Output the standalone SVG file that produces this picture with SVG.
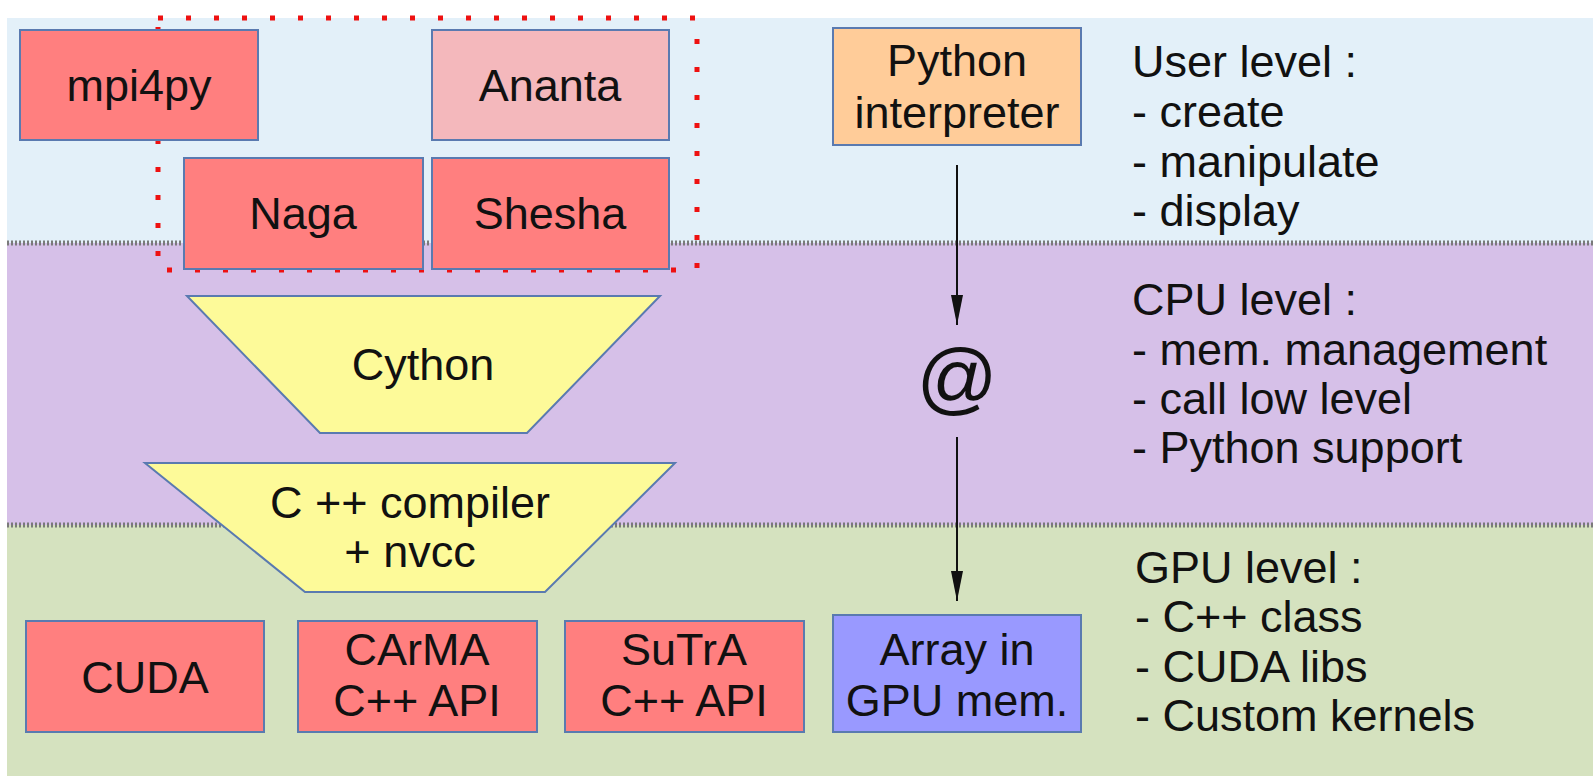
<svg xmlns="http://www.w3.org/2000/svg" width="1593" height="776" viewBox="0 0 1593 776">
<defs>
<style>
text{font-family:"Liberation Sans",Arial,sans-serif;font-size:45px;fill:#111;}
.c{text-anchor:middle;}
.box{stroke:#5a7ab0;stroke-width:2;}
.red{fill:#ff7f7f;}
.pink{fill:#f4b8bc;}
.trap{fill:#fdfa99;stroke:#5a7ab0;stroke-width:2;}
.sep{stroke:#7a7a7a;stroke-width:5;stroke-dasharray:2 2;fill:none;}
.conn{stroke:#111;stroke-width:2;fill:none;}
</style>
<marker id="ah" viewBox="0 0 30 12" refX="30" refY="6" markerWidth="30" markerHeight="12" markerUnits="userSpaceOnUse" orient="auto">
<path d="M0,0 L30,6 L0,12 Z" fill="#111"/>
</marker>
</defs>
<rect x="0" y="0" width="1593" height="776" fill="#ffffff"/>
<g id="bands">
<rect x="7" y="18" width="1586" height="225" fill="#e3f0f9"/>
<rect x="7" y="243" width="1586" height="282" fill="#d6c0e8"/>
<rect x="7" y="525" width="1586" height="251" fill="#d5e2bf"/>
<line class="sep" x1="7" y1="243" x2="1593" y2="243"/>
<line class="sep" x1="7" y1="525" x2="1593" y2="525"/>
</g>
<g id="group-outline">
<rect x="158" y="18" width="539" height="252" fill="none" stroke="#ee1111" stroke-width="5" stroke-dasharray="5 23"/>
</g>
<g id="mpi4py"><rect class="box red" x="20" y="30" width="238" height="110"/><text class="c" x="139" y="101">mpi4py</text></g>
<g id="ananta"><rect class="box pink" x="432" y="30" width="237" height="110"/><text class="c" x="550" y="101">Ananta</text></g>
<g id="naga"><rect class="box red" x="184" y="158" width="239" height="111"/><text class="c" x="303" y="229">Naga</text></g>
<g id="shesha"><rect class="box red" x="432" y="158" width="237" height="111"/><text class="c" x="550" y="229">Shesha</text></g>
<g id="python"><rect class="box" fill="#ffcc99" x="833" y="28" width="248" height="117"/><text class="c" x="957" y="76">Python</text><text class="c" x="957" y="128">interpreter</text></g>
<g id="cython"><polygon class="trap" points="187,296 660,296 527,433 320,433"/><text class="c" x="423" y="380">Cython</text></g>
<g id="compiler"><polygon class="trap" points="145,463 675,463 545,592 305,592"/><text class="c" x="410" y="518">C ++ compiler</text><text class="c" x="410" y="567">+ nvcc</text></g>
<g id="cuda"><rect class="box red" x="26" y="621" width="238" height="111"/><text class="c" x="145" y="693">CUDA</text></g>
<g id="carma"><rect class="box red" x="298" y="621" width="239" height="111"/><text class="c" x="417" y="665">CArMA</text><text class="c" x="417" y="716">C++ API</text></g>
<g id="sutra"><rect class="box red" x="565" y="621" width="239" height="111"/><text class="c" x="684" y="665">SuTrA</text><text class="c" x="684" y="716">C++ API</text></g>
<g id="array"><rect class="box" fill="#9999ff" x="833" y="615" width="248" height="117"/><text class="c" x="957" y="665">Array in</text><text class="c" x="957" y="716">GPU mem.</text></g>
<g id="at"><text class="c" x="957" y="405" style="font-size:80px">@</text></g>
<g id="connectors">
<line class="conn" x1="957" y1="165" x2="957" y2="325" marker-end="url(#ah)"/>
<line class="conn" x1="957" y1="437" x2="957" y2="601" marker-end="url(#ah)"/>
</g>
<g id="user-level"><text x="1132" y="77">User level :</text><text x="1132" y="127">- create</text><text x="1132" y="177">- manipulate</text><text x="1132" y="226">- display</text></g>
<g id="cpu-level"><text x="1132" y="315">CPU level :</text><text x="1132" y="365">- mem. management</text><text x="1132" y="414">- call low level</text><text x="1132" y="463">- Python support</text></g>
<g id="gpu-level"><text x="1135" y="583">GPU level :</text><text x="1135" y="632">- C++ class</text><text x="1135" y="682">- CUDA libs</text><text x="1135" y="731">- Custom kernels</text></g>
</svg>
